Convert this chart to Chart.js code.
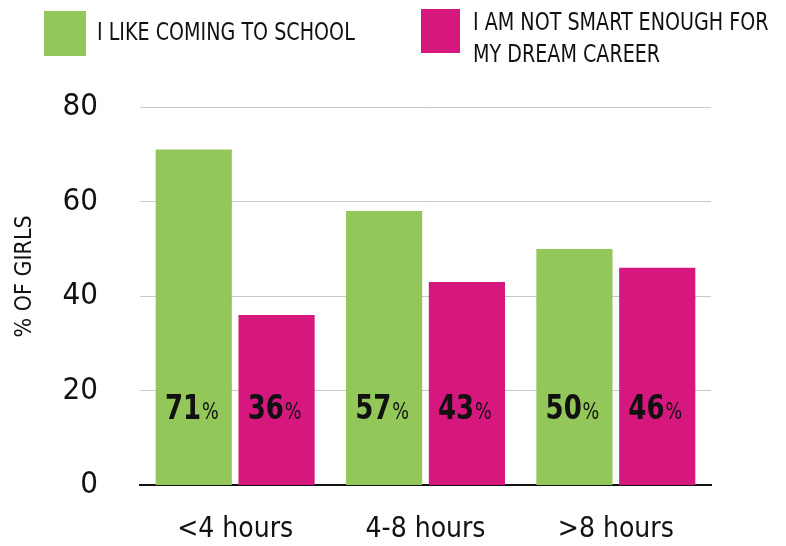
<!DOCTYPE html>
<html>
<head>
<meta charset="utf-8">
<script src="https://cdn.jsdelivr.net/npm/chart.js@4/dist/chart.umd.min.js"></script>
<style>
  html, body { margin: 0; padding: 0; background: #fff; }
  #wrap { position: relative; width: 786px; height: 546px; }
  canvas { position: absolute; left: 0; top: 0; }
  .lg { position: absolute; font-family: "Liberation Sans Narrow", "DejaVu Sans Condensed", sans-serif; font-size: 25px; color: #111; line-height: 32px; white-space: nowrap; transform: scaleX(0.85); transform-origin: 0 0; }
  .box { position: absolute; }
</style>
</head>
<body>
<div id="wrap">
  <canvas id="c" width="786" height="546"></canvas>
  <div id="legend"></div>
</div>
<script>
const categories = ["<4 hours", "4-8 hours", ">8 hours"];
const seriesNames = ["I LIKE COMING TO SCHOOL", "I AM NOT SMART ENOUGH FOR\nMY DREAM CAREER"];
const likeSchool = [71, 58, 50];
const notSmart = [36, 43, 46];
const likeSchoolLabels = ["71", "57", "50"];
const notSmartLabels = ["36", "43", "46"];
const yTicks = [0, 20, 40, 60, 80];
const colors = ["#93c75a", "#d6177e"];

const FONT = '"Liberation Sans Narrow", "DejaVu Sans Condensed", sans-serif';

// HTML legend built from dataset names
const legendPos = [
  { box: [44, 11, 42, 45], text: [97, 16] },
  { box: [421, 9, 39, 44], text: [473, 6] }
];
const legendEl = document.getElementById('legend');
seriesNames.forEach((name, i) => {
  const b = document.createElement('div');
  b.className = 'box';
  const p = legendPos[i];
  b.style.left = p.box[0] + 'px'; b.style.top = p.box[1] + 'px';
  b.style.width = p.box[2] + 'px'; b.style.height = p.box[3] + 'px';
  b.style.background = colors[i];
  legendEl.appendChild(b);
  const t = document.createElement('div');
  t.className = 'lg';
  t.style.left = p.text[0] + 'px'; t.style.top = p.text[1] + 'px';
  t.innerHTML = name.split('\n').join('<br>');
  legendEl.appendChild(t);
});

const valueLabels = {
  id: 'valueLabels',
  afterDatasetsDraw(chart) {
    const ctx = chart.ctx;
    const labelSets = [likeSchoolLabels, notSmartLabels];
    const yBase = chart.chartArea.bottom - 66;
    const sx = 0.85;
    chart.data.datasets.forEach((ds, di) => {
      const meta = chart.getDatasetMeta(di);
      meta.data.forEach((bar, i) => {
        const num = labelSets[di][i];
        ctx.save();
        ctx.textBaseline = 'alphabetic';
        ctx.fillStyle = '#111';
        ctx.font = 'bold 34px ' + FONT;
        const w1 = ctx.measureText(num).width;
        ctx.font = '23px ' + FONT;
        const w2 = ctx.measureText('%').width;
        const total = (w1 + 1 + w2) * sx;
        ctx.translate(bar.x - 2 - total / 2, yBase);
        ctx.scale(sx, 1);
        ctx.font = 'bold 34px ' + FONT;
        ctx.textAlign = 'left';
        ctx.fillText(num, 0, 0);
        ctx.font = '23px ' + FONT;
        ctx.fillText('%', w1 + 1, 0);
        ctx.restore();
      });
    });
  }
};

const NB = '\u00a0';
new Chart(document.getElementById('c'), {
  type: 'bar',
  data: {
    labels: categories,
    datasets: [
      { label: seriesNames[0], data: likeSchool, backgroundColor: colors[0] },
      { label: seriesNames[1], data: notSmart, backgroundColor: colors[1] }
    ]
  },
  options: {
    responsive: false,
    animation: false,
    devicePixelRatio: 1,
    layout: { padding: { top: 107, right: 75, left: 0, bottom: 0 } },
    plugins: { legend: { display: false }, tooltip: { enabled: false } },
    datasets: { bar: { barPercentage: 0.92, categoryPercentage: 0.87 } },
    scales: {
      x: {
        grid: { display: false, drawTicks: false },
        border: { display: true, color: '#111', width: 2 },
        ticks: { color: '#111', font: { family: FONT, size: 28 }, padding: 28 },
        afterFit(s) { s.height = 60; }
      },
      y: {
        min: 0, max: 80,
        afterBuildTicks(s) { s.ticks = yTicks.map(v => ({ value: v })); },
        grid: { color: ctx => ctx.tick && ctx.tick.value === 0 ? 'rgba(0,0,0,0)' : '#c8c8c8', lineWidth: 1, drawTicks: false },
        border: { display: false },
        ticks: { color: '#111', font: { family: FONT, size: 31 }, padding: 42 },
        title: { display: true, text: NB.repeat(6) + '% OF GIRLS', color: '#111', font: { family: FONT, size: 23 }, padding: { top: 11, bottom: 0 } },
        afterFit(s) { s.width = 140; }
      }
    }
  },
  plugins: [valueLabels]
});
</script>
</body>
</html>
